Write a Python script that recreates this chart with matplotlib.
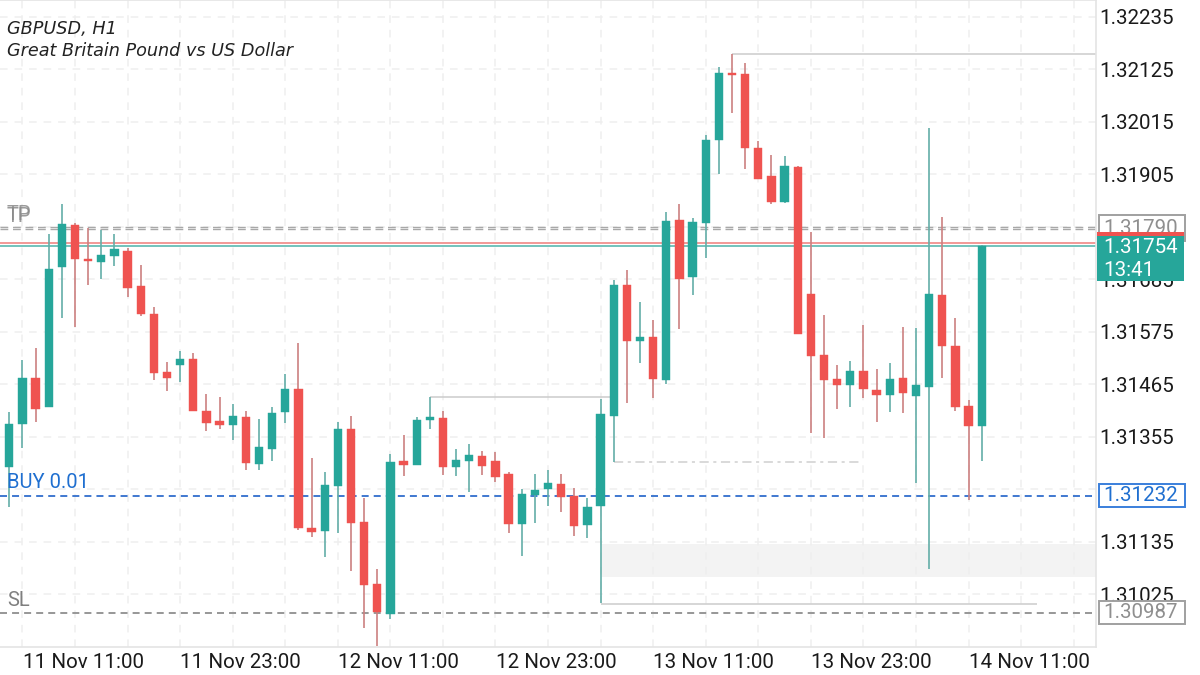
import matplotlib
matplotlib.use("Agg")
import matplotlib.pyplot as plt
import matplotlib.transforms as mt
from matplotlib.patches import Rectangle

opens = [1.31291,1.31382,1.31478,1.31418,1.31710,1.31799,1.31728,1.31722,1.31733,1.31744,1.31670,1.31612,1.31490,1.31505,1.31518,1.31410,1.31389,1.31379,1.31397,1.31298,1.31330,1.31407,1.31456,1.31165,1.31158,1.31252,1.31372,1.31176,1.31046,1.30984,1.31304,1.31296,1.31390,1.31394,1.31291,1.31305,1.31314,1.31304,1.31277,1.31172,1.31233,1.31246,1.31256,1.31231,1.31171,1.31210,1.31399,1.31673,1.31555,1.31564,1.31474,1.31809,1.31689,1.31804,1.31976,1.32118,1.32114,1.31960,1.31901,1.31846,1.31921,1.31655,1.31526,1.31476,1.31464,1.31492,1.31454,1.31442,1.31478,1.31440,1.31460,1.31653,1.31545,1.31420,1.31378]
highs = [1.31407,1.31516,1.31541,1.31780,1.31842,1.31803,1.31792,1.31788,1.31779,1.31750,1.31715,1.31627,1.31512,1.31535,1.31530,1.31444,1.31439,1.31424,1.31409,1.31393,1.31418,1.31487,1.31551,1.31311,1.31281,1.31386,1.31398,1.31228,1.31078,1.31319,1.31359,1.31397,1.31438,1.31409,1.31330,1.31341,1.31326,1.31323,1.31281,1.31245,1.31278,1.31285,1.31277,1.31247,1.31227,1.31434,1.31684,1.31705,1.31637,1.31600,1.31826,1.31842,1.31813,1.31988,1.32129,1.32156,1.32139,1.31974,1.31946,1.31944,1.31922,1.31784,1.31611,1.31506,1.31515,1.31590,1.31497,1.31510,1.31586,1.31584,1.32002,1.31815,1.31605,1.31432,1.31756]
lows = [1.31209,1.31332,1.31386,1.31418,1.31605,1.31586,1.31673,1.31686,1.31713,1.31649,1.31609,1.31474,1.31452,1.31471,1.31409,1.31368,1.31372,1.31349,1.31286,1.31285,1.31304,1.31384,1.31160,1.31146,1.31103,1.31153,1.31075,1.30955,1.30917,1.30973,1.31273,1.31296,1.31371,1.31275,1.31273,1.31240,1.31275,1.31261,1.31153,1.31106,1.31174,1.31211,1.31198,1.31148,1.31144,1.31007,1.31303,1.31426,1.31509,1.31437,1.31466,1.31581,1.31653,1.31730,1.31906,1.32033,1.31917,1.31895,1.31843,1.31844,1.31570,1.31364,1.31352,1.31414,1.31418,1.31436,1.31386,1.31407,1.31405,1.31259,1.31079,1.31478,1.31409,1.31223,1.31305]
closes = [1.31382,1.31479,1.31414,1.31707,1.31801,1.31728,1.31724,1.31735,1.31748,1.31666,1.31613,1.31488,1.31479,1.31519,1.31409,1.31384,1.31379,1.31398,1.31300,1.31333,1.31406,1.31455,1.31164,1.31155,1.31255,1.31372,1.31175,1.31045,1.30989,1.31303,1.31297,1.31390,1.31397,1.31293,1.31307,1.31318,1.31295,1.31271,1.31173,1.31235,1.31244,1.31258,1.31229,1.31169,1.31209,1.31403,1.31674,1.31556,1.31565,1.31476,1.31808,1.31685,1.31806,1.31977,1.32118,1.32112,1.31959,1.31895,1.31847,1.31922,1.31570,1.31525,1.31474,1.31464,1.31494,1.31456,1.31443,1.31476,1.31446,1.31464,1.31655,1.31545,1.31418,1.31378,1.31754]

grid_prices = [1.32235,1.32125,1.32015,1.31905,1.31795,1.31685,1.31575,1.31465,1.31355,1.31245,1.31135,1.31025]
price_labels = ["1.32235","1.32125","1.32015","1.31905","","1.31685","1.31575","1.31465","1.31355","","1.31135","1.31025"]
time_positions = [5,17,29,41,53,65,77]
time_labels = ["11 Nov 11:00","11 Nov 23:00","12 Nov 11:00","12 Nov 23:00","13 Nov 11:00","13 Nov 23:00","14 Nov 11:00"]
grid_positions = [1,9,13,21,25,33,37,45,49,57,61,69,73,81]

ask_price = 1.31761
bid_price = 1.31754
tp_prices = [1.31795,1.31790]
entry_price = 1.31232
sl_price = 1.30987
zone_prices = (1.31061,1.31130)
zone_start = 45.1
structure_levels = [(55,82.7,1.32156,"-"),(32,45.7,1.31438,"-"),(45,78.2,1.31006,"-"),(46,65,1.31303,"-.")]

GREEN = "#26a69a"
RED = "#ef5350"
GREEN_WICK = "#64aea8"
RED_WICK = "#cc8080"
BLUE = "#1f6fd0"
GREY = "#8f8f8f"
W, H = 1200, 675

fig = plt.figure(figsize=(12,6.75), dpi=100, facecolor="white")
ax = fig.add_axes([0, 1-647/H, 1096/W, 647/H])
ax.set_xlim(-0.708, 82.7)
ax.set_ylim(1.30915, 1.32270)

ax.set_xticks(time_positions)
ax.set_xticklabels(time_labels, family="Roboto", fontsize=14.8, color="#1a1a1a")
ax.set_xticks(grid_positions, minor=True)
ax.yaxis.tick_right()
ax.set_yticks(grid_prices)
ax.set_yticklabels(price_labels, family="Roboto", fontsize=14.8, color="#1a1a1a")
ax.tick_params(which="both", length=0)
ax.tick_params(axis="y", pad=2)
ax.tick_params(axis="x", pad=4.5)
shift = mt.ScaledTranslation(8/100, 0, fig.dpi_scale_trans)
for t in ax.get_xticklabels():
    t.set_transform(t.get_transform()+shift)
ax.grid(True, which="both", color="#efefef", lw=1.1, ls=(0,(5,4.5)), zorder=0)
ax.set_axisbelow(True)
ax.spines["left"].set_visible(False)
for s in ["right","bottom","top"]:
    ax.spines[s].set_color("#e4e4e4")
    ax.spines[s].set_linewidth(1.2)

ax.axhspan(zone_prices[0], zone_prices[1], xmin=(zone_start+0.708)/83.408, facecolor="#f3f3f3", edgecolor="none", zorder=0.5)
for x0,x1,y,ls in structure_levels:
    ax.hlines(y, x0, x1, color="#cbcbcb" if ls=="-" else "#d0d0d0", lw=1.1, ls=ls if ls=="-" else (0,(6,3,2,3)), zorder=1)

for p in tp_prices:
    ax.axhline(p, color="#a8a8a8", lw=1.0, ls=(0,(5.6,3.4)), zorder=1.2)
ax.axhline(entry_price, color="#3f78d0", lw=1.4, ls=(0,(3.6,2.6)), zorder=1.2)
ax.axhline(sl_price, color="#979797", lw=1.4, ls=(0,(3.6,2.6)), zorder=1.2)
ax.axhline(ask_price, color="#ef7d7a", lw=1.1, zorder=1.3)
ax.axhline(bid_price, color="#4bb3a9", lw=1.1, zorder=1.3)

for i,(o,h,l,c) in enumerate(zip(opens,highs,lows,closes)):
    up = c >= o
    ax.vlines(i, l, h, color=GREEN_WICK if up else RED_WICK, lw=1.2, zorder=2)
    ax.bar(i, abs(c-o), bottom=min(o,c), width=0.63, color=GREEN if up else RED, edgecolor=GREEN if up else RED, lw=0.3, zorder=3)

fig.text(7/W, 1-29/H, "GBPUSD, H1", family="DejaVu Sans", style="oblique", fontsize=12.7, color="#222222", va="center")
fig.text(7/W, 1-51/H, "Great Britain Pound vs US Dollar", family="DejaVu Sans", style="oblique", fontsize=12.7, color="#222222", va="center")

for dy in (-1,1):
    fig.text(7/W, 1-(215+dy)/H, "TP", family="Roboto", fontsize=14.5, color="#8a8a8a", va="center", alpha=0.85)
fig.text(7/W, 1-483/H, "BUY 0.01", family="Roboto", fontsize=14.5, color=BLUE, va="center")
fig.text(7/W, 1-600/H, "SL", family="Roboto", fontsize=14.5, color="#7f7f7f", va="center")

def box(x0,y0,x1,y1,face,edge,lw,z):
    fig.add_artist(Rectangle((x0/W,1-y1/H),(x1-x0)/W,(y1-y0)/H,transform=fig.transFigure,facecolor=face,edgecolor=edge,lw=lw,zorder=z))

box(1099,215,1184.5,240.5,"white","#a0a0a0",1.4,5)
fig.text(1103/W,1-229/H,f"{tp_prices[1]:.5f}",family="Roboto",fontsize=14.8,color=GREY,va="center",zorder=6)
box(1097.3,235.7,1183.7,281,GREEN,"none",0,7)
box(1097.3,232,1183.7,235.7,RED,"none",0,8)
fig.text(1103/W,1-247/H,f"{bid_price:.5f}",family="Roboto",fontsize=14.8,color="white",va="center",zorder=9)
fig.text(1103/W,1-270.5/H,"13:41",family="Roboto",fontsize=14.8,color="white",va="center",zorder=9)
box(1099,483.5,1184.5,506.5,"white","#3a7fdc",1.4,5)
fig.text(1103/W,1-495.5/H,f"{entry_price:.5f}",family="Roboto",fontsize=14.8,color=BLUE,va="center",zorder=6)
box(1099,600.5,1184.5,624,"white","#a0a0a0",1.4,5)
fig.text(1103/W,1-612.5/H,f"{sl_price:.5f}",family="Roboto",fontsize=14.8,color=GREY,va="center",zorder=6)

fig.savefig("out.png", dpi=100)
